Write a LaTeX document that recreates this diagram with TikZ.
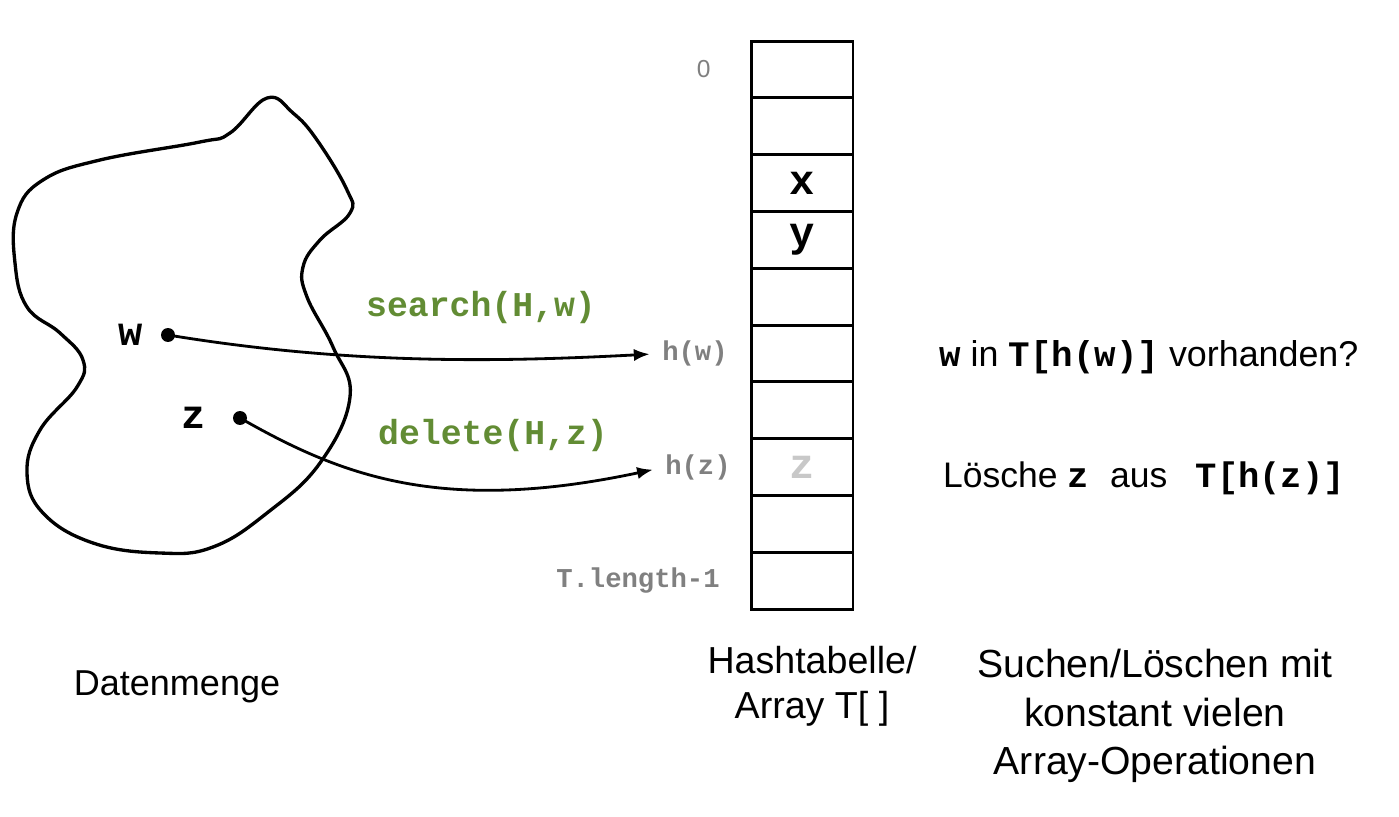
\documentclass[tikz,border=0pt]{standalone}
\usepackage{fontspec}
\setmainfont{Liberation Sans}
\newfontfamily\codefont{Liberation Mono}
\usetikzlibrary{arrows.meta,positioning}

\definecolor{opgreen}{RGB}{98,140,52}
\definecolor{idxgray}{RGB}{128,128,128}
\definecolor{ghostgray}{RGB}{200,200,200}
\newcommand{\code}[1]{{\codefont\bfseries #1}}

\tikzset{
  cell/.style={draw, line width=1.7pt, rectangle, inner sep=0pt, outer sep=0pt,
    minimum width=2.04cm, minimum height=1.136cm},
  entry/.style={font=\fontsize{24}{28}\selectfont\codefont\bfseries},
  idx/.style={text=idxgray, inner sep=0pt, font=\fontsize{15.5}{18}\selectfont\codefont\bfseries},
  elem/.style={circle, fill, inner sep=0pt, minimum size=0.28cm},
  elemlabel/.style={font=\fontsize{23}{26}\selectfont\codefont\bfseries},
  op/.style={text=opgreen, font=\fontsize{19.8}{24}\selectfont\codefont\bfseries},
  hashto/.style={line width=1.6pt, -{Latex[length=9pt,width=7pt]}, shorten >=7pt},
  caption/.style={align=center, font=\fontsize{20.5}{25.5}\selectfont},
}

\begin{document}
\begin{tikzpicture}[x=0.02cm, y=-0.02cm]
\useasboundingbox (0,0) rectangle (1399,817);

% Datenmenge
\draw[line width=1.9pt] plot[smooth cycle, tension=0.7] coordinates {
  (267,98) (230,133) (200,142) (100,160) (43,180) (17,213) (15,263)
  (27,307) (60,333) (83,360) (77,387) (40,430) (27,473) (43,513)
  (93,543) (160,553) (213,547) (267,513) (320,463) (350,397) (333,347)
  (307,297) (303,267) (320,240) (350,213) (347,190) (317,140) (293,113)};

\node[elem] (wdot) at (168,335) {};
\node[elemlabel] (w) at (131,335) {w};
\node[elem] (zdot) at (240,418) {};
\node[elemlabel] (z) at (194,418) {z};

% Hashtabelle
\foreach \i in {0,...,9}
  \node[cell] (c\i) at (802,{69.5+56.8*\i}) {};

\node[entry] (kx) at (c2) {x};
\node[entry] (ky) at (c3) {y};
\node[entry, text=ghostgray] (kz) at (c7) {z};

\node[idx, font=\fontsize{14}{16}\selectfont] (i0) [left=0.8cm of c0] {0};
\node[idx] (hw) [left=0.46cm of c5] {h(w)};
\node[idx] (hz) [left=0.4cm of c7] {h(z)};
\node[idx] (ilast) [left=0.62cm of c9] {T.length-1};

% Operationen
\node[op] (search) at (481,308) {search(H,w)};
\node[op] (delete) at (493,436) {delete(H,z)};

\draw[hashto] (wdot.center) .. controls (350,365) and (500,362) .. (hw.west);
\draw[hashto] (zdot.center) .. controls (340,475) and (440,515) .. (hz.west);

\node[anchor=west, font=\fontsize{20.4}{24}\selectfont] (qw) at (933,357)
  {\code{w} in \code{T[h(w)]} vorhanden?};
\node[anchor=west, font=\fontsize{20.2}{24}\selectfont] (qz) at (937,478)
  {Lösche \code{z}\hspace{0.6em}aus\hspace{0.8em}\code{T[h(z)]}};

\node[caption] (menge) at (177,687) {Datenmenge};
\node[caption, font=\fontsize{21.4}{25.6}\selectfont] (tab) at (812,686) {Hashtabelle/\\Array T[ ]};
\node[caption, font=\fontsize{22.3}{27.6}\selectfont] (ops) at (1155,716)
  {Suchen/Löschen mit\\konstant vielen\\Array-Operationen};
\end{tikzpicture}
\end{document}
